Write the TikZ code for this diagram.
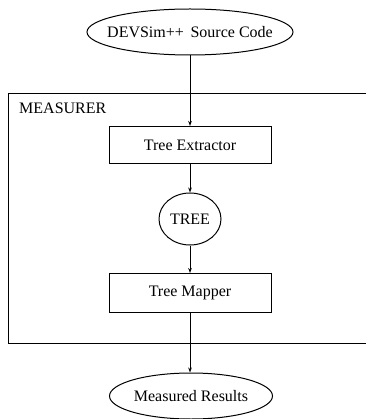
\documentclass[tikz,border=0pt]{standalone}
\usepackage{fontspec}
\setmainfont{Liberation Serif}
\usetikzlibrary{shapes.geometric,arrows.meta}
\begin{document}
\begin{tikzpicture}[x=1pt,y=-1pt,
  every node/.style={font=\fontsize{16}{19}\selectfont, inner sep=0pt},
  datanode/.style={draw, ellipse, line width=1pt},
  procbox/.style={draw, rectangle, line width=1pt, minimum width=162pt, minimum height=37pt},
  flow/.style={line width=1pt, -{Stealth[length=5pt,width=3.6pt]}},
  frame/.style={line width=1pt}]
\useasboundingbox (0,0) rectangle (366,419);

% input and output data: outline sized independently of the text
\node[datanode, minimum width=206pt, minimum height=46pt] (src) at (190,32) {};
\node (srctext) at (src.center) {DEVSim++\, Source Code};
\node[datanode, minimum width=163pt, minimum height=46pt] (res) at (191,396) {};
\node (restext) at (res.center) {Measured Results};

% the measurer enclosure (open towards the right margin)
\coordinate (fr-tr) at (366,94);
\coordinate (fr-tl) at (8,94);
\coordinate (fr-bl) at (8,343);
\coordinate (fr-br) at (366,343);
\draw[frame] (fr-tr) -- (fr-tl) -- (fr-bl) -- (fr-br);
\node[anchor=west] (mlabel) at (19,108) {MEASURER};

% processing stages
\node[procbox] (ext) at (190,145) {Tree Extractor};
\node[datanode, minimum width=62pt, minimum height=52pt] (tree) at (190,219) {};
\node (treetext) at (tree.center) {TREE};
\node[procbox, minimum height=39pt] (map) at (190,293) {Tree Mapper};

% data flow
\draw[flow] (src.south) -- (src.south |- ext.north);
\draw[flow] (ext.south) -- (tree.north);
\draw[flow] (tree.south) -- (map.north);
\draw[flow] (map.south) -- (map.south |- res.north);
\end{tikzpicture}
\end{document}
